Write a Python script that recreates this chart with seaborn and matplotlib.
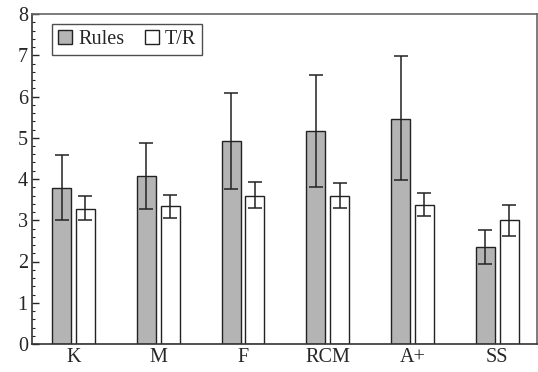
import matplotlib
matplotlib.use("Agg")
import matplotlib.pyplot as plt
from matplotlib.ticker import MultipleLocator
import seaborn as sns
import pandas as pd
import numpy as np

# data
methods = ["K", "M", "F", "RCM", "A+", "SS"]
rules_mean = [3.78, 4.08, 4.92, 5.16, 5.45, 2.35]
rules_lo = [3.00, 3.28, 3.75, 3.80, 3.97, 1.95]
rules_hi = [4.58, 4.87, 6.08, 6.53, 6.97, 2.77]
tr_mean = [3.28, 3.34, 3.60, 3.60, 3.38, 3.00]
tr_lo = [3.00, 3.05, 3.30, 3.30, 3.10, 2.63]
tr_hi = [3.60, 3.62, 3.93, 3.90, 3.65, 3.38]
series = ["Rules", "T/R"]

df = pd.DataFrame({
    "method": methods * 2,
    "value": rules_mean + tr_mean,
    "kind": ["Rules"] * len(methods) + ["T/R"] * len(methods),
})

sns.set_style("white")
plt.rcParams["font.family"] = ["Liberation Serif", "DejaVu Serif"]

fig = plt.figure(figsize=(5.38, 3.72), dpi=100)
ax = fig.add_axes([32 / 538, 28 / 372, 505 / 538, 330 / 372])

sns.barplot(data=df, x="method", y="value", hue="kind", order=methods,
            hue_order=series, palette={"Rules": "#b4b4b4", "T/R": "white"},
            width=0.56, gap=0.2, errorbar=None, edgecolor="#222222",
            linewidth=1.0, ax=ax)

# asymmetric error bars on each bar
errs = [(rules_mean, rules_lo, rules_hi), (tr_mean, tr_lo, tr_hi)]
for cont, (m, lo, hi) in zip(ax.containers, errs):
    xs = [p.get_x() + p.get_width() / 2 for p in cont.patches]
    m = np.array(m)
    yerr = [m - np.array(lo), np.array(hi) - m]
    ax.errorbar(xs, m, yerr=yerr, fmt="none", ecolor="#222222",
                elinewidth=1.1, capsize=5, capthick=1.1, zorder=5)

ax.set_xlim(-0.49, 5.47)
ax.set_ylim(0, 8)
ax.yaxis.set_major_locator(MultipleLocator(1))
ax.yaxis.set_minor_locator(MultipleLocator(0.2))
ax.tick_params(axis="y", which="major", direction="in", length=5, width=1,
               labelsize=14.5, left=True, pad=3)
ax.tick_params(axis="y", which="minor", direction="in", length=2.5, width=0.8,
               left=True)
ax.tick_params(axis="x", length=0, labelsize=14.5, pad=3)
ax.set_xlabel("")
ax.set_ylabel("")

for s in ["left", "bottom"]:
    ax.spines[s].set_color("#333333")
    ax.spines[s].set_linewidth(1.2)
for s in ["top", "right"]:
    ax.spines[s].set_color("#666666")
    ax.spines[s].set_linewidth(1.2)

leg = ax.legend(loc="upper left", bbox_to_anchor=(0.04, 0.97), ncol=2,
                fontsize=14.5, frameon=True, fancybox=False, handlelength=0.7,
                handleheight=0.7, handletextpad=0.3, columnspacing=1.0,
                borderpad=0.3, edgecolor="#222222", borderaxespad=0)
leg.get_frame().set_linewidth(1.0)

fig.savefig("out.png", dpi=100)
